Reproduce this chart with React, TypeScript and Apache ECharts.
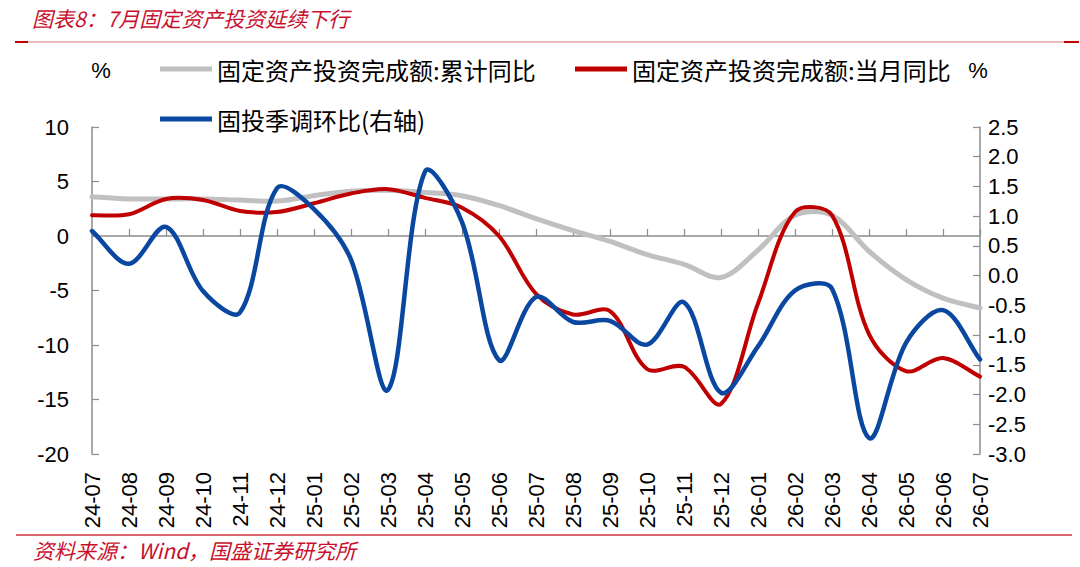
import React, { useEffect, useRef } from "react";
import * as echarts from "echarts";

const categories = [
  "24-07", "24-08", "24-09", "24-10", "24-11", "24-12",
  "25-01", "25-02", "25-03", "25-04", "25-05", "25-06",
  "25-07", "25-08", "25-09", "25-10", "25-11", "25-12",
  "26-01", "26-02", "26-03", "26-04", "26-05", "26-06", "26-07",
];

const cumulativeYoY = [
  3.6, 3.4, 3.4, 3.4, 3.3, 3.2,
  3.7, 4.1, 4.2, 4.0, 3.7, 2.8,
  1.6, 0.5, -0.5, -1.7, -2.6, -3.8,
  -1.3, 1.9, 1.9, -1.4, -4.0, -5.7, -6.6,
];

const monthlyYoY = [
  1.9, 2.0, 3.4, 3.3, 2.3, 2.2,
  3.0, 3.9, 4.3, 3.5, 2.6, 0.0,
  -5.3, -7.2, -6.9, -12.2, -12.0, -15.4,
  -6.2, 2.2, 1.9, -9.0, -12.4, -11.2, -12.9,
];

const seasonalQoQ = [
  0.75, 0.2, 0.82, -0.26, -0.62, 1.47,
  1.12, 0.27, -1.92, 1.75, 0.9, -1.42,
  -0.36, -0.78, -0.76, -1.16, -0.45, -1.97,
  -1.19, -0.25, -0.22, -2.73, -1.13, -0.58, -1.41,
];

const seriesNames = [
  "固定资产投资完成额:累计同比",
  "固定资产投资完成额:当月同比",
  "固投季调环比(右轴)",
];

const titleText = "图表8：7月固定资产投资延续下行";
const sourceText = "资料来源：Wind，国盛证券研究所";

const CJK = "'Noto Sans CJK SC', sans-serif";
const LAT = "'Liberation Sans', Arial, sans-serif";
const RED = "#c8102e";

// Excel-like smoothed path through the points given in pixel space
function smoothPath(pts: number[][]): string {
  const n = pts.length;
  if (n === 0) return "";
  let d = `M${pts[0][0]},${pts[0][1]}`;
  const dist = (a: number[], b: number[]) => Math.hypot(a[0] - b[0], a[1] - b[1]);
  for (let i = 0; i < n - 1; i++) {
    const p0 = pts[Math.max(0, i - 1)];
    const p1 = pts[i];
    const p2 = pts[i + 1];
    const p3 = pts[Math.min(n - 1, i + 2)];
    // outgoing control at p1
    const t1x = p2[0] - p0[0];
    const t1y = p2[1] - p0[1];
    const d01 = dist(p0, p1);
    const d12 = dist(p1, p2);
    const r1 = d01 + d12 > 0 ? d12 / (d01 + d12) : 0.5;
    const c1x = p1[0] + (t1x * r1) / 3;
    const c1y = p1[1] + (t1y * r1) / 3;
    // incoming control at p2
    const t2x = p3[0] - p1[0];
    const t2y = p3[1] - p1[1];
    const d23 = dist(p2, p3);
    const r2 = d12 + d23 > 0 ? d12 / (d12 + d23) : 0.5;
    const c2x = p2[0] - (t2x * r2) / 3;
    const c2y = p2[1] - (t2y * r2) / 3;
    d += ` C${c1x},${c1y} ${c2x},${c2y} ${p2[0]},${p2[1]}`;
  }
  return d;
}

function makeSmoothSeries(
  name: string,
  values: number[],
  yAxisIndex: number,
  color: string,
  width: number,
  z: number
) {
  return {
    name,
    type: "custom",
    xAxisIndex: 0,
    yAxisIndex,
    z,
    color,
    itemStyle: { color },
    data: values.map((v, i) => [i, v]),
    encode: { x: 0, y: 1 },
    renderItem: (params: any, api: any) => {
      if (params.dataIndex !== 0) return null;
      const pts = values.map((v, i) => api.coord([i, v]));
      return {
        type: "path",
        shape: { pathData: smoothPath(pts) },
        style: {
          stroke: color,
          lineWidth: width,
          fill: "none",
          lineJoin: "round",
          lineCap: "round",
        },
      };
    },
  };
}

export default function App() {
  const ref = useRef<HTMLDivElement>(null);

  useEffect(() => {
    if (!ref.current) return;
    const chart = echarts.init(ref.current, undefined, { renderer: "svg" });

    const legendBase = {
      padding: 0,
      itemWidth: 52,
      itemHeight: 5,
      icon: "rect",
      textStyle: { fontFamily: CJK, fontSize: 24, color: "#000" },
      selectedMode: false,
    };

    const axisGrey = "#8c8c8c";

    const option: any = {
      animation: false,
      backgroundColor: "#fff",
      grid: { left: 92, right: 100, top: 127, bottom: 113, containLabel: false },
      legend: [
        { ...legendBase, data: [seriesNames[0]], left: 160, top: 57 },
        { ...legendBase, data: [seriesNames[1]], left: 575, top: 57 },
        { ...legendBase, data: [seriesNames[2]], left: 160, top: 107 },
      ],
      xAxis: [
        {
          type: "category",
          data: categories,
          boundaryGap: false,
          position: "bottom",
          axisLine: { show: false, onZero: false },
          axisTick: { show: false },
          axisLabel: {
            rotate: 90,
            margin: 18,
            fontSize: 22,
            fontFamily: LAT,
            color: "#000",
            interval: 0,
          },
          splitLine: { show: false },
        },
        {
          type: "category",
          data: categories,
          boundaryGap: false,
          position: "bottom",
          axisLine: {
            show: true,
            onZero: true,
            onZeroAxisIndex: 0,
            lineStyle: { color: axisGrey, width: 1.5 },
          },
          axisTick: {
            show: true,
            inside: true,
            length: 7,
            interval: 0,
            lineStyle: { color: axisGrey, width: 1.2 },
          },
          axisLabel: { show: false },
          splitLine: { show: false },
        },
      ],
      yAxis: [
        {
          type: "value",
          min: -20,
          max: 10,
          interval: 5,
          position: "left",
          axisLine: { show: true, lineStyle: { color: axisGrey, width: 1.5 } },
          axisTick: { show: true, inside: true, length: 7, lineStyle: { color: axisGrey, width: 1.2 } },
          splitLine: { show: false },
          axisLabel: { fontSize: 22, fontFamily: LAT, color: "#000", margin: 23 },
        },
        {
          type: "value",
          min: -3,
          max: 2.5,
          interval: 0.5,
          position: "right",
          axisLine: { show: true, lineStyle: { color: axisGrey, width: 1.5 } },
          axisTick: { show: true, inside: true, length: 7, lineStyle: { color: axisGrey, width: 1.2 } },
          splitLine: { show: false },
          axisLabel: {
            fontSize: 22,
            fontFamily: LAT,
            color: "#000",
            margin: 8,
            formatter: (v: number) => v.toFixed(1),
          },
        },
      ],
      series: [
        makeSmoothSeries(seriesNames[0], cumulativeYoY, 0, "#c0c0c0", 5, 2),
        makeSmoothSeries(seriesNames[1], monthlyYoY, 0, "#c00000", 4, 3),
        makeSmoothSeries(seriesNames[2], seasonalQoQ, 1, "#0a47a0", 4.5, 4),
      ],
      graphic: [
        {
          type: "text",
          left: 32,
          top: 7,
          style: {
            text: titleText,
            fill: RED,
            font: `italic 21px ${CJK}`,
          },
        },
        {
          type: "line",
          shape: { x1: 15, y1: 42, x2: 1079, y2: 42 },
          style: { stroke: "#e2a3a8", lineWidth: 1.5 },
        },
        {
          type: "line",
          shape: { x1: 15, y1: 42, x2: 28, y2: 42 },
          style: { stroke: "#c00000", lineWidth: 2 },
        },
        {
          type: "line",
          shape: { x1: 1064, y1: 42, x2: 1079, y2: 42 },
          style: { stroke: "#c00000", lineWidth: 2 },
        },
        {
          type: "line",
          shape: { x1: 16, y1: 535, x2: 1072, y2: 535 },
          style: { stroke: "#d0303a", lineWidth: 1.5 },
        },
        {
          type: "text",
          left: 33,
          top: 539,
          style: {
            text: sourceText,
            fill: RED,
            font: `italic 21px ${CJK}`,
          },
        },
        {
          type: "text",
          x: 101,
          y: 70,
          style: {
            text: "%",
            fill: "#000",
            font: `22px ${LAT}`,
            align: "center",
            verticalAlign: "middle",
          },
        },
        {
          type: "text",
          x: 978,
          y: 70,
          style: {
            text: "%",
            fill: "#000",
            font: `22px ${LAT}`,
            align: "center",
            verticalAlign: "middle",
          },
        },
      ],
    };

    chart.setOption(option);
    return () => {
      chart.dispose();
    };
  }, []);

  return (
    <div
      ref={ref}
      style={{ position: "fixed", left: 0, top: 0, width: 1080, height: 567, background: "#fff" }}
    />
  );
}
